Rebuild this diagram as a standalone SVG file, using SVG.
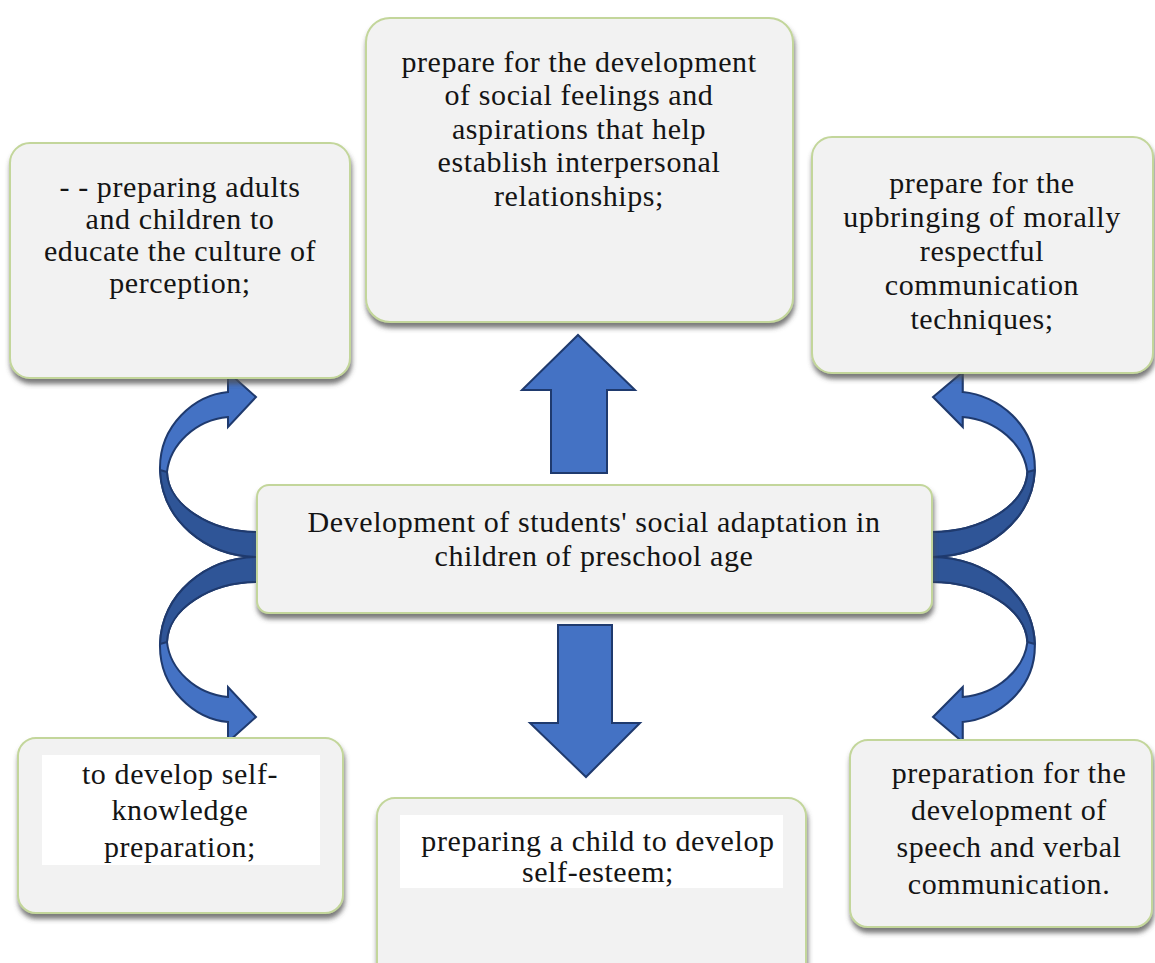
<svg xmlns="http://www.w3.org/2000/svg" width="1155" height="963" viewBox="0 0 1155 963">
  <style>
    .box { fill: #f2f2f2; stroke: #c3d69b; stroke-width: 2; filter: url(#shadow); }
    .pad { fill: #ffffff; }
    .lbl { font-family: "Liberation Serif", "Times New Roman", serif; font-size: 30px; letter-spacing: 0.6px; fill: #141414; text-anchor: middle; }
    .arr { fill: #4472c4; stroke: #1f3a6e; stroke-width: 2; stroke-linejoin: miter; }
    .arr-back { fill: #2f5597; stroke: #1f3a6e; stroke-width: 2; stroke-linejoin: round; }
  </style>
  <defs>
    <filter id="shadow" x="-10%" y="-10%" width="125%" height="130%">
      <feDropShadow dx="1" dy="5" stdDeviation="2.5" flood-color="#4d4d4d" flood-opacity="0.75"/>
    </filter>
    <!-- curved ribbon arrow leaving the left side of the central box, bending up -->
    <g id="curl">
      <path class="arr" d="M257,557 C205,556 162,520 160,470 C159,425 195,395 228,392 L228,372 L256,397 L228,427 L228,417 C195,420 170,445 167,472 C168,505 210,532 257,532 Z"/>
      <path class="arr-back" d="M257,557 C205,556 162,520 160,470 L167,472 C168,505 210,532 257,532 Z"/>
    </g>
  </defs>

  <rect width="1155" height="963" fill="#ffffff"/>

  <!-- connectors -->
  <g id="connectors">
    <use href="#curl"/>
    <use href="#curl" transform="translate(0,1114) scale(1,-1)"/>
    <use href="#curl" transform="translate(932,0) scale(-1.06,1) translate(-257,0)"/>
    <use href="#curl" transform="translate(932,1114) scale(-1.06,-1) translate(-257,0)"/>
    <path class="arr" d="M551,473 L551,390 L522,390 L578,335 L635,390 L607,390 L607,473 Z"/>
    <path class="arr" d="M558,625 L612,625 L612,723 L640,723 L586,777 L530,723 L558,723 Z"/>
  </g>

  <g id="node-perception">
    <rect class="box" x="10" y="143" width="340" height="235" rx="20"/>
    <text class="lbl" x="180" y="197">- - preparing adults</text>
    <text class="lbl" x="180" y="229">and children to</text>
    <text class="lbl" x="180" y="261">educate the culture of</text>
    <text class="lbl" x="180" y="293">perception;</text>
  </g>

  <g id="node-social-feelings">
    <rect class="box" x="366" y="18" width="427" height="304" rx="24"/>
    <text class="lbl" x="579" y="72">prepare for the development</text>
    <text class="lbl" x="579" y="105">of social feelings and</text>
    <text class="lbl" x="579" y="139">aspirations that help</text>
    <text class="lbl" x="579" y="172">establish interpersonal</text>
    <text class="lbl" x="579" y="206">relationships;</text>
  </g>

  <g id="node-communication">
    <rect class="box" x="812" y="137" width="341" height="236" rx="20"/>
    <text class="lbl" x="982" y="193">prepare for the</text>
    <text class="lbl" x="982" y="227">upbringing of morally</text>
    <text class="lbl" x="982" y="261">respectful</text>
    <text class="lbl" x="982" y="295">communication</text>
    <text class="lbl" x="982" y="329">techniques;</text>
  </g>

  <g id="node-center">
    <rect class="box" x="257" y="485" width="675" height="128" rx="12"/>
    <text class="lbl" x="594" y="532">Development of students' social adaptation in</text>
    <text class="lbl" x="594" y="566">children of preschool age</text>
  </g>

  <g id="node-self-knowledge">
    <rect class="box" x="18" y="738" width="325" height="175" rx="18"/>
    <rect class="pad" x="42" y="755" width="278" height="110"/>
    <text class="lbl" x="180" y="784">to develop self-</text>
    <text class="lbl" x="180" y="820">knowledge</text>
    <text class="lbl" x="180" y="857">preparation;</text>
  </g>

  <g id="node-self-esteem">
    <rect class="box" x="377" y="798" width="429" height="190" rx="18"/>
    <rect class="pad" x="400" y="815" width="383" height="73"/>
    <text class="lbl" x="598" y="851">preparing a child to develop</text>
    <text class="lbl" x="598" y="882">self-esteem;</text>
  </g>

  <g id="node-speech">
    <rect class="box" x="850" y="740" width="302" height="187" rx="18"/>
    <text class="lbl" x="1009" y="783">preparation for the</text>
    <text class="lbl" x="1009" y="820">development of</text>
    <text class="lbl" x="1009" y="857">speech and verbal</text>
    <text class="lbl" x="1009" y="894">communication.</text>
  </g>
</svg>
